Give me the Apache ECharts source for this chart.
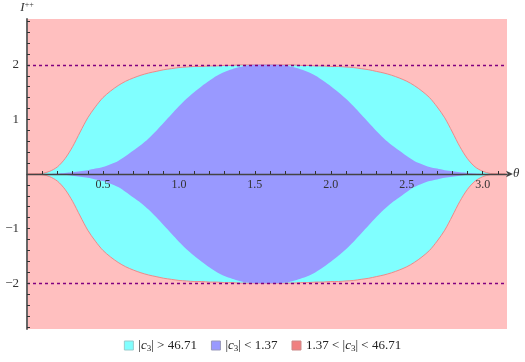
<!DOCTYPE html>
<html>
<head>
<meta charset="utf-8">
<script src="https://cdn.jsdelivr.net/npm/echarts@6/dist/echarts.min.js"></script>
<style>html,body{margin:0;padding:0;background:#fff}#c{width:525px;height:362px}</style>
</head>
<body>
<div id="c"></div>
<script>
// θ sample points (step 0.05)
var theta = [0,0.05,0.1,0.15,0.2,0.25,0.3,0.35,0.4,0.45,0.5,0.55,0.6,0.65,0.7,0.75,0.8,0.85,0.9,0.95,1.0,1.05,1.1,1.15,1.2,1.25,1.3,1.35,1.4,1.45,1.5,1.55,
             1.6,1.65,1.7,1.75,1.8,1.85,1.9,1.95,2.0,2.05,2.1,2.15,2.2,2.25,2.3,2.35,2.4,2.45,2.5,2.55,2.6,2.65,2.7,2.75,2.8,2.85,2.9,2.95,3.0,3.05,3.1,3.15];
// outer boundary (|c3| > 46.71 region, cyan)
var outer = [0,0,0.01,0.05,0.13,0.28,0.50,0.77,1.03,1.23,1.40,1.52,1.62,1.70,1.76,1.81,1.85,1.88,1.91,1.93,1.95,1.96,1.97,1.97,1.98,1.98,1.99,1.99,2.0,2.0,2.0,2.0,
             2.0,2.0,2.0,2.0,1.99,1.99,1.98,1.98,1.97,1.97,1.96,1.95,1.93,1.91,1.88,1.85,1.81,1.76,1.70,1.62,1.52,1.40,1.23,1.03,0.77,0.50,0.28,0.13,0.05,0.01,0,0];
// inner boundary (|c3| < 1.37 region, blue)
var inner = [0,0,0,0,0.01,0.02,0.03,0.05,0.07,0.10,0.13,0.18,0.24,0.33,0.43,0.53,0.65,0.79,0.94,1.09,1.24,1.38,1.50,1.61,1.71,1.80,1.87,1.92,1.96,1.99,2.0,2.0,
             2.0,2.0,1.99,1.96,1.92,1.87,1.80,1.71,1.61,1.50,1.38,1.24,1.09,0.94,0.79,0.65,0.53,0.43,0.33,0.24,0.18,0.13,0.10,0.07,0.05,0.03,0.02,0.01,0,0,0,0];
var refLines = [2, -2];
var xTicks = [0.1,0.2,0.3,0.4,0.5,0.6,0.7,0.8,0.9,1.0,1.1,1.2,1.3,1.4,1.5,1.6,1.7,1.8,1.9,2.0,2.1,2.2,2.3,2.4,2.5,2.6,2.7,2.8,2.9,3.0,3.1];
var xLabels = [0.5, 1.0, 1.5, 2.0, 2.5, 3.0];
var yTicks = [-2.8,-2.6,-2.4,-2.2,-2,-1.8,-1.6,-1.4,-1.2,-1,-0.8,-0.6,-0.4,-0.2,0.2,0.4,0.6,0.8,1,1.2,1.4,1.6,1.8,2,2.2,2.4,2.6,2.8];
var yLabels = [-2, -1, 1, 2];
var names = ['cyan', 'blue', 'pink'];
var legendText = {
  cyan: '|{it|c}{sub|3}| > 46.71',
  blue: '|{it|c}{sub|3}| < 1.37',
  pink: '1.37 < |{it|c}{sub|3}| < 46.71'
};

var CYAN = '#80ffff', BLUE = '#9999ff', PINK = '#ffbfbf', PINK_LEG = '#f08080';
var FONT = 'Liberation Serif';
var GRID_TOP = 19, GRID_BOTTOM = 33, H = 362;

function pairs(vals, sign) {
  return theta.map(function (t, i) { return [t, sign * vals[i]]; });
}

var chart = echarts.init(document.getElementById('c'), null, {renderer: 'canvas'});
// move the x axis up to y = 0 (symmetric y range => middle of the grid)
var plotH = H - GRID_TOP - GRID_BOTTOM;
var SM = 0.3;
chart.setOption({
  animation: false,
  grid: {left: 27, right: 18, top: GRID_TOP, bottom: GRID_BOTTOM, show: true, backgroundColor: PINK, borderWidth: 0},
  xAxis: {
    type: 'value', min: 0, max: 3.16, z: 10,
    position: 'bottom', offset: -plotH / 2,
    name: 'θ', nameLocation: 'end', nameGap: 6,
    nameTextStyle: {fontFamily: FONT, fontStyle: 'italic', fontSize: 13, color: '#333', verticalAlign: 'middle'},
    axisLine: {onZero: false, lineStyle: {color: '#444', width: 1.3}, symbol: ['none', 'arrow'], symbolSize: [5, 7], symbolOffset: [0, 6]},
    axisTick: {show: true, inside: true, length: 3, customValues: xTicks, lineStyle: {color: '#333'}},
    axisLabel: {customValues: xLabels, fontFamily: FONT, fontSize: 12, color: '#333', margin: 5,
      formatter: function (v) { return v.toFixed(1); }},
    splitLine: {show: false}
  },
  yAxis: {
    type: 'value', min: -2.84, max: 2.84, z: 10,
    name: '{i|I}{s|++}', nameLocation: 'end', nameGap: 4,
    nameTextStyle: {rich: {i: {fontFamily: FONT, fontStyle: 'italic', fontSize: 13, color: '#333'},
      s: {fontFamily: FONT, fontSize: 8, color: '#333', verticalAlign: 'top', padding: [0,0,6,0]}}},
    axisLine: {onZero: false, lineStyle: {color: '#666', width: 2}},
    axisTick: {show: true, inside: true, length: 3, customValues: yTicks, lineStyle: {color: '#333'}},
    axisLabel: {customValues: yLabels, fontFamily: FONT, fontSize: 13, color: '#333', margin: 8,
      formatter: function (v) { return v < 0 ? '\u2212' + Math.abs(v) : String(v); }},
    splitLine: {show: false}
  },
  legend: {
    bottom: 4, left: 'center', icon: 'rect', itemWidth: 9, itemHeight: 9, itemGap: 14,
    data: [
      {name: names[0], itemStyle: {color: CYAN, borderColor: '#9cc', borderWidth: 1}},
      {name: names[1], itemStyle: {color: BLUE, borderColor: '#99b', borderWidth: 1}},
      {name: names[2], itemStyle: {color: PINK_LEG, borderColor: '#c88', borderWidth: 1}}
    ],
    formatter: function (n) { return legendText[n]; },
    textStyle: {fontFamily: FONT, fontSize: 13, color: '#222',
      rich: {it: {fontFamily: FONT, fontStyle: 'italic', fontSize: 13, color: '#222'},
             sub: {fontFamily: FONT, fontSize: 9, color: '#222', padding: [6, 0, 0, 0]}}},
    selectedMode: false
  },
  series: [
    {name: names[0], type: 'line', data: pairs(outer, 1), smooth: SM, showSymbol: false,
     lineStyle: {color: '#ee8a8a', width: 1}, itemStyle: {color: CYAN}, areaStyle: {color: CYAN, opacity: 1}, silent: true, z: 2},
    {name: names[0], type: 'line', data: pairs(outer, -1), smooth: SM, showSymbol: false,
     lineStyle: {color: '#ee8a8a', width: 1}, itemStyle: {color: CYAN}, areaStyle: {color: CYAN, opacity: 1}, silent: true, z: 2},
    {name: names[1], type: 'line', data: pairs(inner, 1), smooth: SM, showSymbol: false,
     lineStyle: {width: 0}, itemStyle: {color: BLUE}, areaStyle: {color: BLUE, opacity: 1}, silent: true, z: 3},
    {name: names[1], type: 'line', data: pairs(inner, -1), smooth: SM, showSymbol: false,
     lineStyle: {width: 0}, itemStyle: {color: BLUE}, areaStyle: {color: BLUE, opacity: 1}, silent: true, z: 3},
    {name: names[2], type: 'line', data: [], itemStyle: {color: PINK_LEG},
     markLine: {silent: true, symbol: 'none', label: {show: false},
       lineStyle: {color: '#800080', type: [3, 3], width: 1.3},
       data: refLines.map(function (v) { return {yAxis: v}; })}, z: 4}
  ]
});
</script>
</body>
</html>
